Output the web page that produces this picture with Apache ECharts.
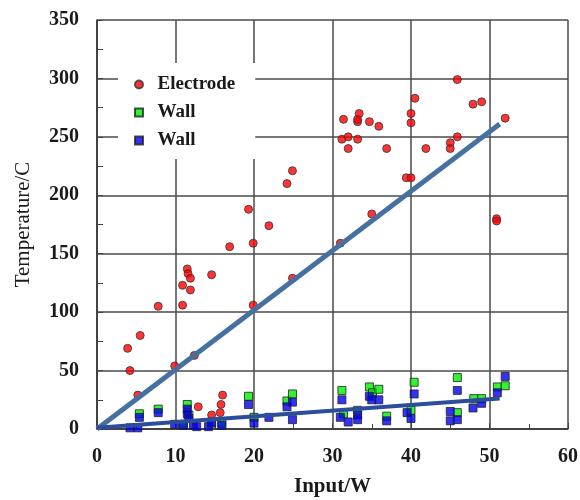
<!DOCTYPE html>
<html>
<head>
<meta charset="utf-8">
<script src="https://cdn.jsdelivr.net/npm/echarts@6/dist/echarts.min.js"></script>
<style>
  html, body { margin: 0; padding: 0; background: #fff; }
  #chart { width: 580px; height: 500px; }
</style>
</head>
<body>
<div id="chart"></div>
<script>
// Electrode temperature readings [input W, temperature C]
const electrode = [
  [3.9, 69], [4.2, 50], [5.2, 29], [5.5, 80], [7.8, 105], [9.9, 54], [10.9, 106], [10.9, 123],
  [11.5, 137], [11.6, 133], [11.9, 129], [11.9, 119], [12.4, 63], [12.9, 19], [14.6, 12], [14.6, 132],
  [15.7, 14], [15.8, 21], [16, 29], [16.9, 156], [19.3, 188], [19.9, 159], [19.9, 106], [21.9, 174],
  [24.2, 210], [24.9, 221], [24.9, 129], [31, 159], [31.2, 248], [31.4, 265], [32, 250], [32, 240],
  [33.2, 248], [33.2, 263], [33.2, 265], [33.4, 270], [34.7, 263], [35, 184], [35.9, 259], [36.9, 240],
  [39.4, 215], [40, 215], [40, 262], [40, 270], [40.5, 283], [41.9, 240], [45, 245], [45, 240],
  [45.9, 250], [45.9, 299], [47.9, 278], [49, 280], [50.9, 180], [50.9, 178], [52, 266]
]
// Wall readings, green markers
const wallGreen = [
  [5.4, 13], [7.8, 17], [11, 4], [11.5, 21], [11.7, 12], [14.6, 6], [15.9, 5], [19.3, 28], [20, 10],
  [24.2, 24], [24.9, 30], [31.2, 33], [31.4, 13], [33.2, 16], [34.7, 36], [35.1, 31], [35.9, 34],
  [36.9, 11], [40.4, 40], [40, 16], [45.9, 44], [45.9, 14], [48, 26], [49, 26], [51, 36], [52, 37]
]
// Wall readings, blue markers
const wallBlue = [
  [4.2, 1], [5.2, 1], [5.4, 10], [7.8, 14], [9.9, 4], [11, 3], [11.5, 17], [11.5, 13], [11.7, 9],
  [12.3, 3], [12.7, 2], [14.2, 2], [14.6, 5], [15.9, 3], [19.3, 21], [20, 5], [21.9, 10], [24.2, 19],
  [24.9, 23], [24.9, 8], [31.2, 25], [31, 10], [32, 6], [33.2, 12], [33.2, 8], [34.7, 28], [35, 25],
  [35.9, 25], [36.9, 7], [40.4, 30], [39.5, 14], [40, 9], [45, 15], [45, 7], [45.9, 33], [45.9, 8],
  [47.9, 18], [49, 22], [51, 31], [52, 45]
]
// trend lines
const electrodeFit = [[0, 0], [51.3, 261]]
const wallFit = [[0, 1], [51.3, 26]]

const xTicks = [0, 60, 10]
const yTicks = [0, 350, 50]

const serif = 'Liberation Serif, Times New Roman, serif'

let chart = echarts.init(document.getElementById('chart'), null, { renderer: 'canvas' })

let axisText = { fontFamily: serif, fontWeight: 'bold', fontSize: 20, color: '#1a1a1a' }
let nameText = { fontFamily: serif, fontWeight: 'bold', fontSize: 21, color: '#1a1a1a' }

chart.setOption({
  animation: false,
  grid: { left: 97, right: 12, top: 20, bottom: 71, outerBoundsMode: 'none' },
  legend: {
    left: 118,
    top: 63,
    orient: 'vertical',
    padding: [12, 20, 9, 16],
    itemGap: 9,
    itemWidth: 8,
    itemHeight: 8,
    backgroundColor: '#fff',
    data: [
      { name: 'Electrode', icon: 'circle' },
      { name: 'Wall A', icon: 'rect' },
      { name: 'Wall B', icon: 'rect' }
    ],
    formatter: function (name) {
      return '  ' + name.split(' ')[0]
    },
    textStyle: { fontFamily: serif, fontWeight: 'bold', fontSize: 19, color: '#1a1a1a' }
  },
  xAxis: {
    type: 'value',
    min: xTicks[0],
    max: xTicks[1],
    interval: xTicks[2],
    name: 'Input/W',
    nameLocation: 'middle',
    nameGap: 47,
    nameTextStyle: nameText,
    axisLine: { show: true, lineStyle: { color: '#333', width: 1.5 } },
    axisTick: { show: true, inside: true, length: 6, lineStyle: { color: '#444' } },
    minorTick: { show: true, splitNumber: 2, length: 5, lineStyle: { color: '#444' } },
    axisLabel: Object.assign({ margin: 18 }, axisText),
    splitLine: { show: true, lineStyle: { color: '#4a4a4a', width: 1.5 } }
  },
  yAxis: {
    type: 'value',
    min: yTicks[0],
    max: yTicks[1],
    interval: yTicks[2],
    name: 'Temperature/C',
    nameLocation: 'middle',
    nameGap: 63,
    nameTextStyle: Object.assign({}, nameText, { fontWeight: 'normal' }),
    axisLine: { show: true, lineStyle: { color: '#333', width: 1.5 } },
    axisTick: { show: true, inside: true, length: 6, lineStyle: { color: '#444' } },
    minorTick: { show: true, splitNumber: 2, length: 6, lineStyle: { color: '#444' } },
    axisLabel: Object.assign({ margin: 18 }, axisText),
    splitLine: { show: true, lineStyle: { color: '#4a4a4a', width: 1.5 } }
  },
  series: [
    {
      name: 'Electrode',
      type: 'scatter',
      symbol: 'circle',
      symbolSize: 8,
      itemStyle: { color: '#ff0000', borderColor: '#333', borderWidth: 1 },
      data: electrode,
      z: 2
    },
    {
      name: 'Wall A',
      type: 'scatter',
      symbol: 'rect',
      symbolSize: 8,
      itemStyle: { color: '#00ee00', borderColor: '#222', borderWidth: 1 },
      data: wallGreen,
      z: 2
    },
    {
      name: 'Wall B',
      type: 'scatter',
      symbol: 'rect',
      symbolSize: 8,
      itemStyle: { color: '#0000ee', borderColor: '#222', borderWidth: 1 },
      data: wallBlue,
      z: 3
    },
    {
      name: 'Electrode fit',
      type: 'line',
      symbol: 'none',
      lineStyle: { color: '#46709f', width: 5 },
      data: electrodeFit,
      z: 4
    },
    {
      name: 'Wall fit',
      type: 'line',
      symbol: 'none',
      lineStyle: { color: '#2b4d9c', width: 4 },
      data: wallFit,
      z: 4
    }
  ]
})
</script>
</body>
</html>
